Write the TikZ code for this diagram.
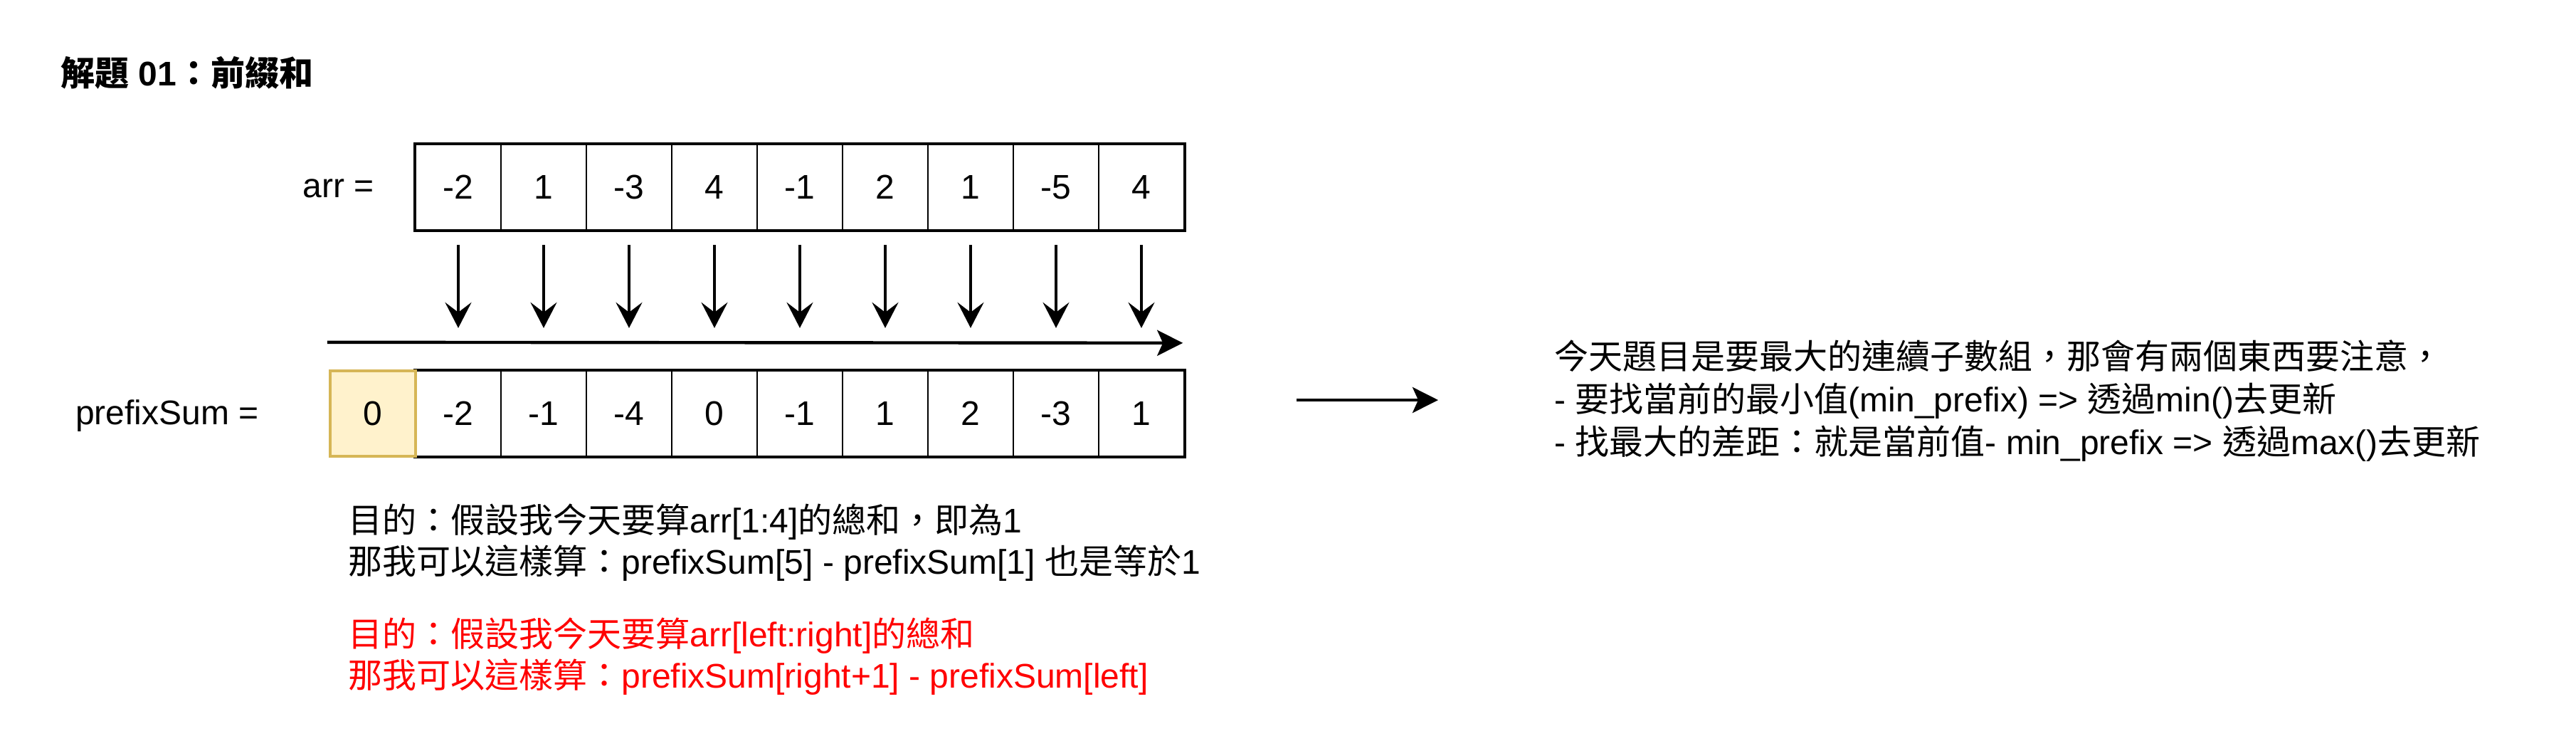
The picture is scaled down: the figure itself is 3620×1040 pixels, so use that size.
\documentclass[tikz,border=0pt]{standalone}
\usepackage{fontspec}
\setmainfont{Liberation Sans}
\newfontfamily\cjk{Noto Sans CJK TC}
\usepackage{tikz}
\usetikzlibrary{arrows.meta,calc}
\definecolor{firstfill}{HTML}{FFF2CC}
\definecolor{firstline}{HTML}{D6B656}
\definecolor{notered}{HTML}{FF0000}

\tikzset{
	cell/.style={draw, line width=1.2pt, minimum width=60pt, minimum height=60pt, inner sep=0pt, font=\fontsize{24}{29}\selectfont},
	txt/.style={inner sep=0pt, align=left, font=\fontsize{24}{29}\selectfont},
	thinarrow/.style={line width=1.7pt, -{Stealth[length=18pt, width=18.5pt, inset=7pt]}},
	thickarrow/.style={line width=2.2pt, -{Stealth[length=18pt, width=18pt, inset=4pt]}}
}

\begin{document}
\begin{tikzpicture}[x=0.5pt, y=-0.5pt]
	\useasboundingbox (0,0) rectangle (3620,1040);

	\node[txt, anchor=west, font=\fontsize{24}{29}\selectfont\bfseries] (title) at (85,102) {{\cjk 解題} 01{\cjk ：前綴和}};

	% input array
	\node[txt] (arrlabel) at (476,265) {arr =};
	\foreach \v [count=\i] in {-2,1,-3,4,-1,2,1,-5,4}
		\node[cell] (a\i) at (524+120*\i,263) {\v};
	\draw[line width=2.2pt] (a1.north west) rectangle (a9.south east);

	% prefix sums
	\node[txt] (prelabel) at (235,584) {prefixSum =};
	\foreach \v [count=\i from 0] in {0,-2,-1,-4,0,-1,1,2,-3,1}
		\node[cell] (p\i) at (524+120*\i,581) {\v};
	\draw[line width=2.2pt] (p1.north west) rectangle (p9.south east);
	\node[cell, fill=firstfill, draw=firstline, line width=2.2pt] (p0) at (524,581) {0};

	\foreach \i in {1,...,9}
		\draw[thinarrow] ($(a\i.south)+(0,20)$) -- ($(p\i.north)+(0,-59)$);
	\draw[thickarrow] ($(p0.north west)+(-2,-38)$) -- ($(p9.north east)+(-3,-38)$);

	% notes
	\node[txt, anchor=west] (ex) at (489,762) {{\cjk 目的：假設我今天要算}arr[1:4]{\cjk 的總和，即為}1\\{\cjk 那我可以這樣算：}prefixSum[5] - prefixSum[1] {\cjk 也是等於}1};
	\node[txt, anchor=west, text=notered] (rule) at (489,922) {{\cjk 目的：假設我今天要算}arr[left:right]{\cjk 的總和}\\{\cjk 那我可以這樣算：}prefixSum[right+1] - prefixSum[left]};

	\coordinate (gofrom) at (1822,562);
	\coordinate (goto) at (2021,562);
	\draw[thickarrow] (gofrom) -- (goto);

	\node[txt, anchor=west, font=\fontsize{24}{30}\selectfont] (note) at (2184,563) {{\cjk 今天題目是要最大的連續子數組，那會有兩個東西要注意，}\\- {\cjk 要找當前的最小值}(min\_prefix) =\textgreater{} {\cjk 透過}min(){\cjk 去更新}\\- {\cjk 找最大的差距：就是當前值}- min\_prefix =\textgreater{} {\cjk 透過}max(){\cjk 去更新}};

\end{tikzpicture}
\end{document}
